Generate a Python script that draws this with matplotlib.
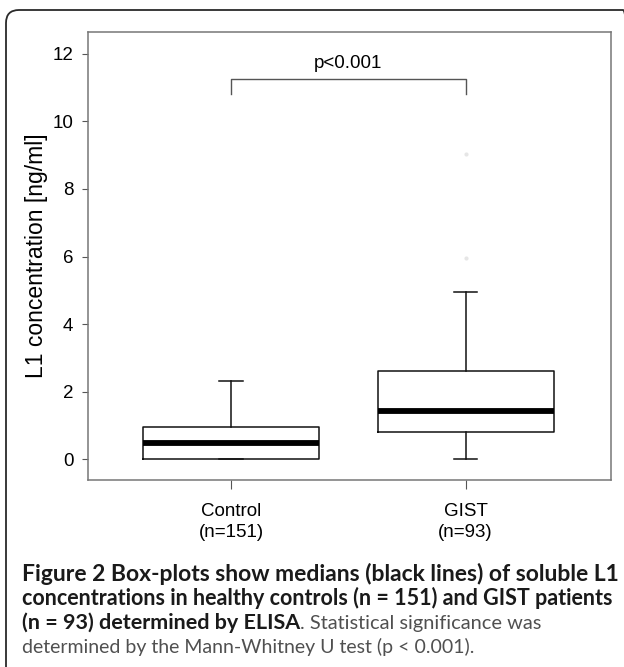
import matplotlib
matplotlib.use('Agg')
from matplotlib import pyplot as plt
from matplotlib.patches import FancyBboxPatch

# box-plot statistics
groups = ['Control\n(n=151)', 'GIST\n(n=93)']
whislo = [0.0, 0.0]
q1 = [0.0, 0.79]
med = [0.47, 1.42]
q3 = [0.95, 2.61]
whishi = [2.32, 4.95]
fliers = [[], [5.96, 9.04]]
p_text = 'p<0.001'

plt.rcParams['font.family'] = ['Liberation Sans', 'DejaVu Sans']
W, H = 624, 667
fig = plt.figure(figsize=(W / 100, H / 100), dpi=100)

# rounded frame round figure + caption (inches, so the corner stays round)
frame = FancyBboxPatch((0.06, -0.5), 6.30, (H - 10) / 100 + 0.5,
                       boxstyle='round,pad=0,rounding_size=0.13',
                       transform=fig.dpi_scale_trans, fill=False,
                       edgecolor='#2a2a2a', linewidth=1.3, zorder=0)
fig.patches.append(frame)

ax = fig.add_axes([88 / W, 1 - 480 / H, 523 / W, 448 / H])

stats = []
for i in range(len(groups)):
    stats.append({'whislo': whislo[i], 'q1': q1[i], 'med': med[i], 'q3': q3[i],
                  'whishi': whishi[i], 'fliers': fliers[i]})

ax.bxp(stats, positions=[1, 2], widths=0.75, capwidths=0.1,
       boxprops=dict(color='#111111', linewidth=1.1),
       whiskerprops=dict(color='#111111', linewidth=1.1),
       capprops=dict(color='#111111', linewidth=1.1),
       medianprops=dict(color='black', linewidth=4.2, solid_capstyle='butt'),
       flierprops=dict(marker='o', markersize=2, markerfacecolor='#e6e6e6',
                       markeredgecolor='#e6e6e6'))

# significance bracket
ax.plot([1, 1, 2, 2], [10.81, 11.26, 11.26, 10.81], color='#555555', linewidth=1.0)
ax.text(1.5, 11.73, p_text, ha='center', va='center', fontsize=13.5)

ax.set_xlim(0.39, 2.62)
ax.set_ylim(-0.62, 12.65)
ax.set_yticks([0, 2, 4, 6, 8, 10, 12])
ax.set_xticks([1, 2])
ax.set_xticklabels(groups, fontsize=13.5, linespacing=1.3)
ax.tick_params(axis='y', labelsize=13.5, length=4.5, color='#555555', pad=6)
ax.tick_params(axis='x', length=6.5, color='#555555', pad=10)
ax.set_ylabel('L1 concentration [ng/ml]', fontsize=16.5)
ax.yaxis.set_label_coords((37 - 88) / 523, 0.5)
ax.yaxis.label.set_va('center')
for s in ax.spines.values():
    s.set_color('#777777')
    s.set_linewidth(1.1)

# caption, every piece sized to the width it has in the reference
cfont = ['Lato', 'DejaVu Sans']


def put(x, y, s, right, bold):
    t = fig.text(x / W, 1 - y / H, s, fontsize=15, family=cfont, va='baseline',
                 fontweight='bold' if bold else 'normal',
                 color='#1a1a1a' if bold else '#505050')
    for k in range(2):
        fig.canvas.draw()
        bb = t.get_window_extent()
        t.set_fontsize(t.get_fontsize() * (right - x) / bb.width)
    fig.canvas.draw()
    return t.get_window_extent().x1


cx = 22
put(cx, 581, 'Figure 2 Box-plots show medians (black lines) of soluble L1', 619, True)
put(cx, 605, 'concentrations in healthy controls (n = 151) and GIST patients', 612, True)
x_end = put(cx, 629, '(n = 93) determined by ELISA', 300, True)
put(x_end, 629, '. Statistical significance was', 542, False)
put(cx, 653, 'determined by the Mann-Whitney U test (p < 0.001).', 473, False)

plt.savefig('out.png', dpi=100)
